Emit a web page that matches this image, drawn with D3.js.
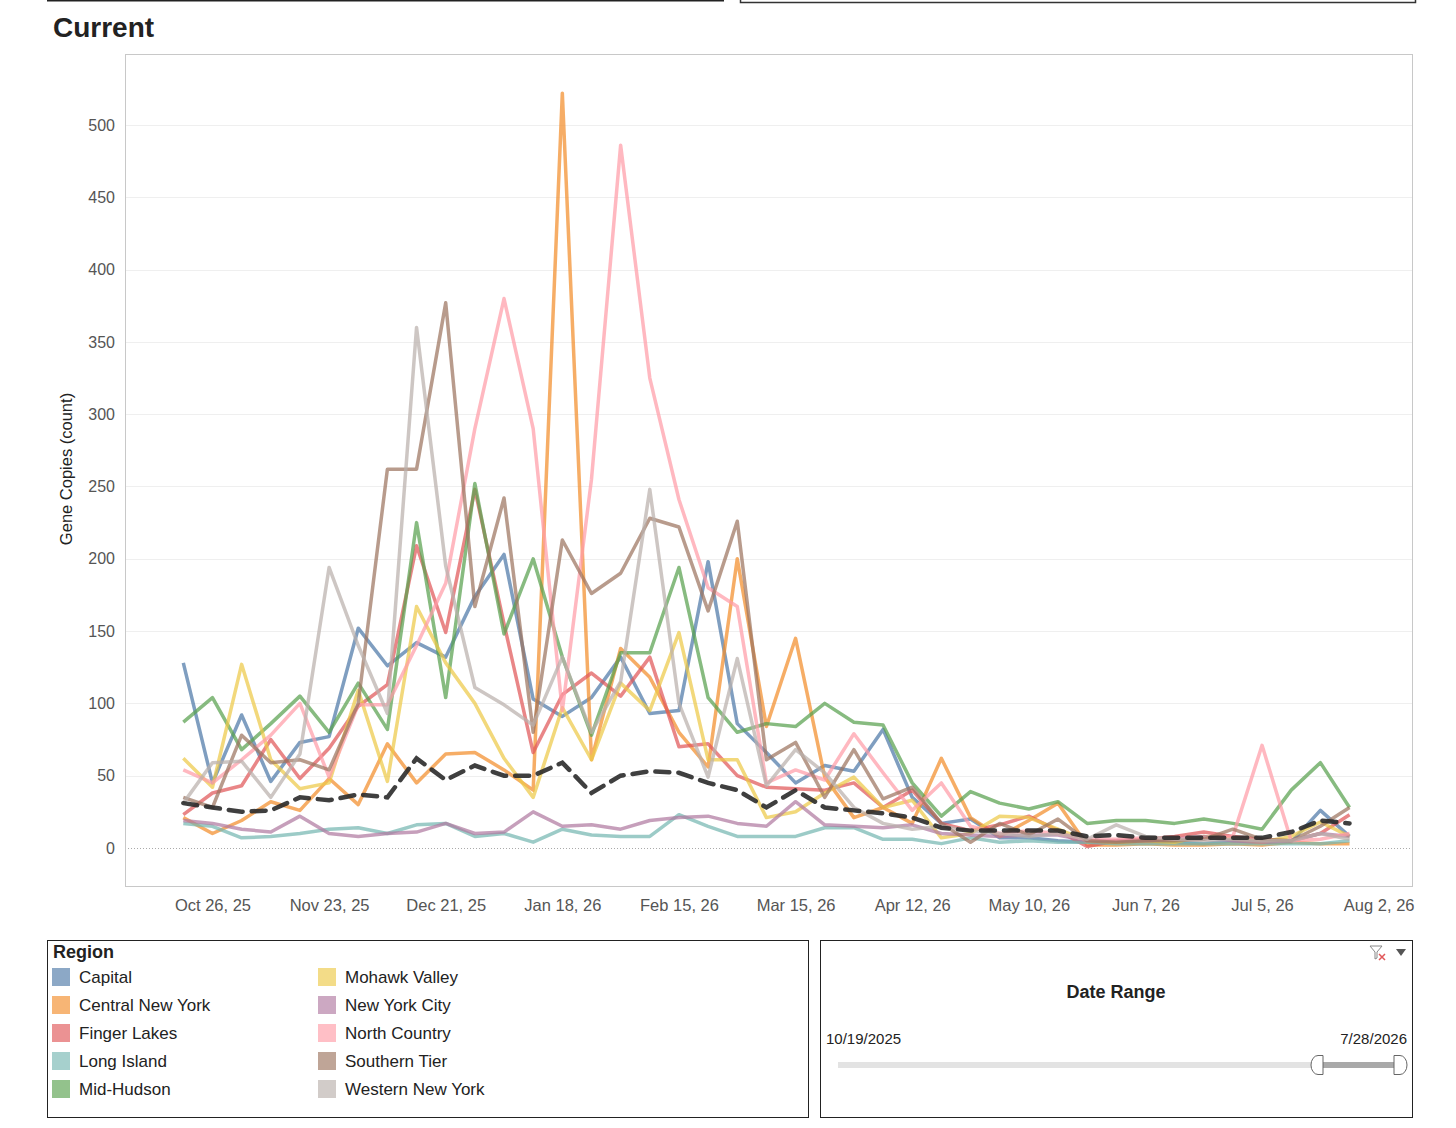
<!DOCTYPE html>
<html lang="en">
  <head>
    <meta charset="utf-8">
    <script src="https://cdn.jsdelivr.net/npm/d3@7/dist/d3.min.js"></script>
    <style>
      body { margin: 0; background: #fff; }
      text { font-family: Arial, "Liberation Sans", Helvetica, sans-serif; }
    </style>
  </head>
  <body>
    <script type="text/javascript">

      // Data (weekly)
      var startDate = "2025-10-19";
      var weekCount = 41;

      var regions = ["Capital", "Central New York", "Finger Lakes", "Long Island", "Mid-Hudson",
                     "Mohawk Valley", "New York City", "North Country", "Southern Tier", "Western New York"];
      var colors = ["#4e79a7", "#f28e2b", "#e15759", "#76b7b2", "#59a14f",
                    "#edc948", "#b07aa1", "#ff9da7", "#9c755f", "#bab0ac"];

      var capital = [128, 45, 92, 46, 73, 77, 152, 126, 142, 132, 174, 203, 103, 91, 104, 132, 93, 95, 198, 86, 66, 45, 57, 53, 82, 35, 17, 20, 7, 7, 5, 4, 4, 5, 4, 3, 5, 4, 4, 26, 8];
      var centralNewYork = [21, 10, 19, 32, 26, 48, 30, 72, 45, 65, 66, 54, 40, 522, 61, 138, 118, 80, 56, 200, 84, 145, 49, 21, 28, 17, 62, 21, 8, 19, 31, 2, 2, 3, 2, 2, 3, 2, 4, 3, 3];
      var fingerLakes = [23, 38, 43, 75, 48, 69, 98, 113, 209, 149, 248, 155, 66, 106, 121, 105, 132, 70, 72, 50, 42, 41, 40, 45, 28, 40, 17, 12, 16, 22, 12, 1, 5, 6, 8, 11, 8, 6, 5, 10, 23];
      var longIsland = [17, 15, 7, 8, 10, 13, 14, 10, 16, 17, 8, 10, 4, 13, 9, 8, 8, 23, 15, 8, 8, 8, 14, 14, 6, 6, 3, 7, 4, 5, 4, 4, 3, 3, 3, 3, 3, 3, 3, 3, 5];
      var midHudson = [87, 104, 68, 86, 105, 80, 114, 82, 225, 104, 252, 148, 200, 132, 78, 135, 135, 194, 104, 80, 86, 84, 100, 87, 85, 45, 22, 39, 31, 27, 32, 17, 19, 19, 17, 20, 17, 13, 40, 59, 28];
      var mohawkValley = [62, 42, 127, 61, 41, 45, 109, 46, 167, 128, 100, 62, 35, 97, 61, 114, 95, 149, 61, 61, 21, 25, 38, 49, 28, 33, 7, 10, 22, 21, 13, 5, 4, 5, 4, 8, 6, 4, 8, 18, 8];
      var newYorkCity = [19, 17, 13, 11, 22, 10, 8, 10, 11, 17, 10, 11, 25, 15, 16, 13, 19, 21, 22, 17, 15, 32, 16, 15, 14, 16, 10, 9, 8, 9, 9, 5, 5, 5, 6, 8, 5, 4, 5, 10, 8];
      var northCountry = [54, 45, 61, 78, 100, 49, 99, 99, 140, 183, 290, 380, 290, 95, 255, 486, 325, 241, 180, 167, 45, 54, 47, 79, 52, 26, 45, 15, 10, 12, 10, 6, 6, 7, 6, 6, 8, 71, 5, 6, 10];
      var southernTier = [35, 28, 78, 59, 61, 54, 100, 262, 262, 377, 167, 242, 80, 213, 176, 190, 228, 222, 164, 226, 61, 73, 35, 68, 34, 42, 17, 4, 17, 9, 20, 5, 4, 5, 5, 6, 13, 6, 5, 15, 28];
      var westernNewYork = [31, 59, 60, 35, 65, 194, 140, 93, 360, 195, 111, 99, 85, 132, 80, 115, 248, 100, 49, 131, 43, 68, 52, 28, 17, 13, 15, 12, 10, 8, 10, 6, 16, 8, 6, 5, 6, 5, 5, 10, 6];
      var statewide = [31, 28, 25, 26, 35, 33, 37, 35, 62, 47, 57, 50, 50, 59, 38, 50, 53, 52, 45, 40, 28, 40, 28, 26, 24, 21, 14, 12, 12, 12, 12, 8, 9, 7, 7, 7, 7, 7, 11, 19, 17];

      var regionValues = [capital, centralNewYork, fingerLakes, longIsland, midHudson,
                          mohawkValley, newYorkCity, northCountry, southernTier, westernNewYork];

      var xTickDates = ["2025-10-26", "2025-11-23", "2025-12-21", "2026-01-18", "2026-02-15", "2026-03-15",
                        "2026-04-12", "2026-05-10", "2026-06-07", "2026-07-05", "2026-08-02"];
      var yTicks = [0, 50, 100, 150, 200, 250, 300, 350, 400, 450, 500];

      // Visuals
      var svgWidth = 1456;
      var svgHeight = 1128;
      var plot = {left: 125, right: 1412, top: 54, bottom: 886};

      var parse = d3.utcParse("%Y-%m-%d");
      var dates = d3.utcWeek.range(parse(startDate), d3.utcDay.offset(parse(startDate), weekCount * 7));

      var svg = d3.select("body")
      .append("svg")
      .attr("width", svgWidth)
      .attr("height", svgHeight);

      // frames from the neighbouring dashboard panels at the top
      svg.append("line")
      .attr("x1", 47).attr("x2", 724).attr("y1", 0.5).attr("y2", 0.5)
      .attr("stroke", "#222").attr("stroke-width", 2);
      svg.append("path")
      .attr("d", "M740.5,0V2.5H1415.5V0")
      .attr("fill", "none").attr("stroke", "#333").attr("stroke-width", 1.5);

      svg.append("text")
      .attr("x", 53).attr("y", 37)
      .attr("font-size", 28).attr("font-weight", "bold").attr("fill", "#222")
      .text("Current");

      var x = d3.scaleUtc()
      .domain([parse("2025-10-05"), parse("2026-08-10")])
      .range([plot.left, plot.right]);

      var y = d3.scaleLinear()
      .domain([-26.3, 549.1])
      .range([plot.bottom, plot.top]);

      // grid
      svg.append("g")
      .selectAll("line")
      .data(yTicks.filter(function(d) { return d > 0; }))
      .enter().append("line")
      .attr("x1", plot.left).attr("x2", plot.right)
      .attr("y1", function(d) { return Math.round(y(d)) + 0.5; })
      .attr("y2", function(d) { return Math.round(y(d)) + 0.5; })
      .attr("stroke", "#efefef");

      svg.append("line")
      .attr("x1", plot.left).attr("x2", plot.right)
      .attr("y1", Math.round(y(0)) + 0.5).attr("y2", Math.round(y(0)) + 0.5)
      .attr("stroke", "#aaa").attr("stroke-dasharray", "1,2");

      svg.append("rect")
      .attr("x", plot.left + 0.5).attr("y", plot.top + 0.5)
      .attr("width", plot.right - plot.left).attr("height", plot.bottom - plot.top)
      .attr("fill", "none").attr("stroke", "#c8c8c8");

      // axes
      var yAxis = svg.append("g")
      .attr("transform", "translate(" + plot.left + ",0)")
      .call(d3.axisLeft(y).tickValues(yTicks).tickSize(0).tickPadding(10));
      yAxis.select(".domain").remove();
      yAxis.selectAll("text").attr("font-size", 16).attr("fill", "#555")
      .style("font-family", "Arial, 'Liberation Sans', sans-serif");

      var xAxis = svg.append("g")
      .attr("transform", "translate(0," + plot.bottom + ")")
      .call(d3.axisBottom(x)
            .tickValues(xTickDates.map(parse))
            .tickFormat(d3.utcFormat("%b %-d, %y"))
            .tickSize(0).tickPadding(13));
      xAxis.select(".domain").remove();
      xAxis.selectAll("text").attr("font-size", 16.5).attr("fill", "#555")
      .style("font-family", "Arial, 'Liberation Sans', sans-serif");

      svg.append("text")
      .attr("transform", "translate(72,469) rotate(-90)")
      .attr("text-anchor", "middle")
      .attr("font-size", 16.5).attr("fill", "#222")
      .text("Gene Copies (count)");

      // lines
      var line = d3.line()
      .x(function(d, i) { return x(dates[i]); })
      .y(function(d) { return y(d); });

      svg.append("g")
      .selectAll("path")
      .data(regionValues)
      .enter().append("path")
      .attr("d", line)
      .attr("fill", "none")
      .attr("stroke", function(d, i) { return colors[i]; })
      .attr("stroke-opacity", 0.72)
      .attr("stroke-width", 3.5)
      .attr("stroke-linejoin", "round");

      svg.append("path")
      .datum(statewide)
      .attr("d", line)
      .attr("fill", "none")
      .attr("stroke", "#2a2a2a")
      .attr("stroke-opacity", 0.9)
      .attr("stroke-width", 4.5)
      .attr("stroke-dasharray", "14,9")
      .attr("stroke-linecap", "round");

      // legend
      svg.append("rect")
      .attr("x", 47.5).attr("y", 940.5).attr("width", 761).attr("height", 177)
      .attr("fill", "none").attr("stroke", "#222");
      svg.append("text")
      .attr("x", 53).attr("y", 958)
      .attr("font-size", 18).attr("font-weight", "bold").attr("fill", "#222")
      .text("Region");

      var item = svg.append("g")
      .selectAll("g")
      .data(regions)
      .enter().append("g")
      .attr("transform", function(d, i) {
        return "translate(" + (i < 5 ? 52 : 318) + "," + (968 + (i % 5) * 28) + ")";
      });
      item.append("rect")
      .attr("width", 18).attr("height", 18)
      .attr("fill", function(d, i) { return colors[i]; })
      .attr("fill-opacity", 0.65);
      item.append("text")
      .attr("x", 27).attr("y", 15)
      .attr("font-size", 17).attr("fill", "#222")
      .text(function(d) { return d; });

      // date range filter card
      svg.append("rect")
      .attr("x", 820.5).attr("y", 940.5).attr("width", 592).attr("height", 177)
      .attr("fill", "none").attr("stroke", "#222");
      svg.append("text")
      .attr("x", 1116).attr("y", 998).attr("text-anchor", "middle")
      .attr("font-size", 18).attr("font-weight", "bold").attr("fill", "#222")
      .text("Date Range");
      svg.append("text")
      .attr("x", 826).attr("y", 1044)
      .attr("font-size", 15).attr("fill", "#222")
      .text("10/19/2025");
      svg.append("text")
      .attr("x", 1407).attr("y", 1044).attr("text-anchor", "end")
      .attr("font-size", 15).attr("fill", "#222")
      .text("7/28/2026");

      svg.append("line")
      .attr("x1", 838).attr("x2", 1400).attr("y1", 1065).attr("y2", 1065)
      .attr("stroke", "#e3e3e3").attr("stroke-width", 6);
      svg.append("line")
      .attr("x1", 1323).attr("x2", 1394).attr("y1", 1065).attr("y2", 1065)
      .attr("stroke", "#a9a9a9").attr("stroke-width", 6);
      svg.append("path")
      .attr("d", "M1323,1055.5H1318A7,9.5 0 0 0 1318,1074.5H1323Z")
      .attr("fill", "#fff").attr("stroke", "#666");
      svg.append("path")
      .attr("d", "M1394,1055.5H1400A7,9.5 0 0 1 1400,1074.5H1394Z")
      .attr("fill", "#fff").attr("stroke", "#666");

      // filter icons
      svg.append("path")
      .attr("d", "M1370,946H1382L1377,952V958L1375,959V952Z")
      .attr("fill", "none").attr("stroke", "#888").attr("stroke-width", 1);
      svg.append("path")
      .attr("d", "M1379,954L1385,960M1385,954L1379,960")
      .attr("stroke", "#e15759").attr("stroke-width", 1.5);
      svg.append("path")
      .attr("d", "M1396,949H1406L1401,956Z")
      .attr("fill", "#555");
    </script>
  </body>
</html>
